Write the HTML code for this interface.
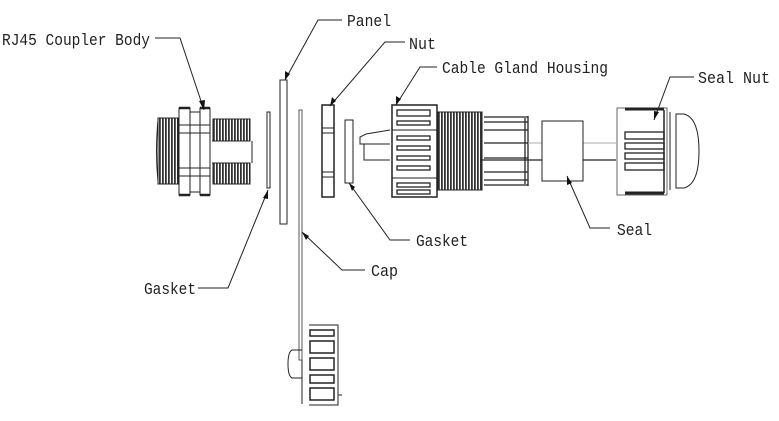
<!DOCTYPE html>
<html><head><meta charset="utf-8"><style>
html,body{margin:0;padding:0;background:#fff;width:779px;height:421px;overflow:hidden}
text{font-family:"Liberation Mono",monospace;font-size:17px;fill:#222}
</style></head><body>
<svg width="779" height="421" viewBox="0 0 779 421" xmlns="http://www.w3.org/2000/svg">
<defs>
<pattern id="th" width="3" height="10" patternUnits="userSpaceOnUse"><rect width="3" height="10" fill="#fff"/><rect width="1.8" height="10" fill="#333"/></pattern>
</defs>
<g fill="none" stroke="#222" stroke-width="1">
<rect x="158" y="118" width="20" height="66" fill="url(#th)"/>
<path d="M158 120 Q155 151 158 182"/>
<rect x="179" y="108" width="11" height="87" fill="#fff"/>
<line x1="179" y1="108" x2="190" y2="108" stroke-width="2.5"/><line x1="179" y1="195" x2="190" y2="195" stroke-width="2.5"/>
<rect x="190" y="112" width="10" height="80"/>
<rect x="200" y="108" width="10" height="87" fill="#fff"/>
<line x1="200" y1="108" x2="210" y2="108" stroke-width="2.5"/><line x1="200" y1="195" x2="210" y2="195" stroke-width="2.5"/>
<line x1="179" y1="125" x2="210" y2="125"/><line x1="179" y1="133" x2="210" y2="133"/>
<line x1="179" y1="168" x2="210" y2="168"/><line x1="179" y1="176" x2="210" y2="176"/>
<rect x="213" y="119" width="37" height="22" fill="url(#th)"/>
<rect x="213" y="163" width="37" height="21" fill="url(#th)"/>
<line x1="212" y1="141" x2="250" y2="141"/><line x1="212" y1="163" x2="250" y2="163"/>
<line x1="252" y1="141" x2="252" y2="163"/>
<rect x="267" y="112" width="3" height="76"/>
<rect x="280" y="80" width="7" height="144"/>
<rect x="299" y="110" width="3" height="250" stroke="#555"/>
<line x1="302" y1="360" x2="302" y2="404"/>
<path d="M309 325 H338 V405 H309"/>
<g stroke-width="1.5">
<rect x="310" y="330" width="24" height="6"/><rect x="310" y="341" width="24" height="12"/>
<rect x="310" y="358" width="24" height="12"/><rect x="310" y="375" width="24" height="8"/>
<rect x="310" y="388" width="24" height="12"/>
</g>
<path d="M302 350 H292 Q288 352 288 364 Q288 376 292 378 H302"/>
<line x1="338" y1="395" x2="342" y2="395"/>
<rect x="322" y="105" width="12" height="92" stroke-width="1.5"/>
<line x1="322" y1="128" x2="334" y2="128"/><line x1="322" y1="133" x2="334" y2="133"/>
<line x1="322" y1="172" x2="334" y2="172"/><line x1="322" y1="177" x2="334" y2="177"/>
<rect x="345" y="120" width="8" height="63"/>
<path d="M390 130 L378 132 L366 134 L360 137 V144 H364 V160 H390"/>
<path d="M364 144 H390"/>
<rect x="392" y="105" width="45" height="92" stroke-width="1.5"/>
<line x1="392" y1="130" x2="437" y2="130"/><line x1="392" y1="178" x2="437" y2="178"/>
<g stroke-width="1.3">
<rect x="397" y="110" width="33" height="6"/><rect x="397" y="121" width="33" height="4"/>
<rect x="397" y="136" width="33" height="4"/><rect x="397" y="146" width="33" height="4"/>
<rect x="397" y="156" width="33" height="4"/><rect x="397" y="166" width="33" height="4"/>
<rect x="397" y="183" width="33" height="4"/><rect x="397" y="190" width="33" height="4"/>
</g>
<rect x="438" y="112" width="44" height="78" fill="url(#th)"/>
<g stroke-width="1.3">
<path d="M484 117 H528 M484 122 H528 M484 130 H528 M484 143 H528 M484 158 H528 M484 172 H528 M484 180 H528 M484 185 H528"/>
<line x1="528" y1="116" x2="528" y2="186"/><line x1="525" y1="118" x2="525" y2="184"/>
</g>
<line x1="528" y1="143" x2="616" y2="143" stroke="#aaa"/>
<line x1="480" y1="160" x2="616" y2="160" stroke-width="1.3"/>
<rect x="542" y="121" width="41" height="60" fill="#fff"/>
<rect x="617" y="108" width="50" height="87" stroke="#666" fill="#fff"/>
<line x1="625" y1="109" x2="664" y2="109" stroke-width="3"/>
<line x1="625" y1="193" x2="664" y2="193" stroke-width="3"/>
<line x1="664" y1="110" x2="664" y2="193" stroke-width="1.5"/>
<g stroke-width="1.3">
<rect x="625" y="132" width="39" height="7"/><rect x="625" y="143" width="39" height="6"/>
<rect x="625" y="153" width="39" height="6"/><rect x="625" y="163" width="39" height="7"/>
</g>
<path d="M676 114 H684 Q699 118 699 151 Q699 184 684 188 H676 Z"/>
<line x1="670" y1="112" x2="670" y2="190"/>
<path d="M155 38 H180 L204 110"/>
<path d="M342 20 H318 L285 80"/>
<path d="M405 42 H385 L330 106"/>
<path d="M437 67 H420 L396 105"/>
<path d="M694 77 H670 L654 120"/>
<path d="M410 240 H390 L349 183"/>
<path d="M610 228 H590 L567 176"/>
<path d="M365 270 H342 L302 232"/>
<path d="M198 288 H228 L268 190"/>
</g>
<g fill="#111">
<polygon points="204,110 199,101 205,100"/>
<polygon points="285,80 285,71 290,74"/>
<polygon points="330,106 332,97 336,101"/>
<polygon points="396,105 396,96 401,99"/>
<polygon points="654,120 654,111 659,112"/>
<polygon points="349,183 352,191 355,187"/>
<polygon points="567,176 567,185 572,183"/>
<polygon points="302,232 306,240 309,236"/>
<polygon points="268,190 263,198 268,199"/>
</g>
<text x="2" y="45" textLength="148" lengthAdjust="spacingAndGlyphs">RJ45 Coupler Body</text>
<text x="347" y="26" textLength="44" lengthAdjust="spacingAndGlyphs">Panel</text>
<text x="409" y="49" textLength="27" lengthAdjust="spacingAndGlyphs">Nut</text>
<text x="442" y="73" textLength="166" lengthAdjust="spacingAndGlyphs">Cable Gland Housing</text>
<text x="698" y="83" textLength="72" lengthAdjust="spacingAndGlyphs">Seal Nut</text>
<text x="416" y="246" textLength="52" lengthAdjust="spacingAndGlyphs">Gasket</text>
<text x="617" y="235" textLength="35" lengthAdjust="spacingAndGlyphs">Seal</text>
<text x="371" y="276" textLength="27" lengthAdjust="spacingAndGlyphs">Cap</text>
<text x="144" y="294" textLength="52" lengthAdjust="spacingAndGlyphs">Gasket</text>
</svg>
</body></html>
